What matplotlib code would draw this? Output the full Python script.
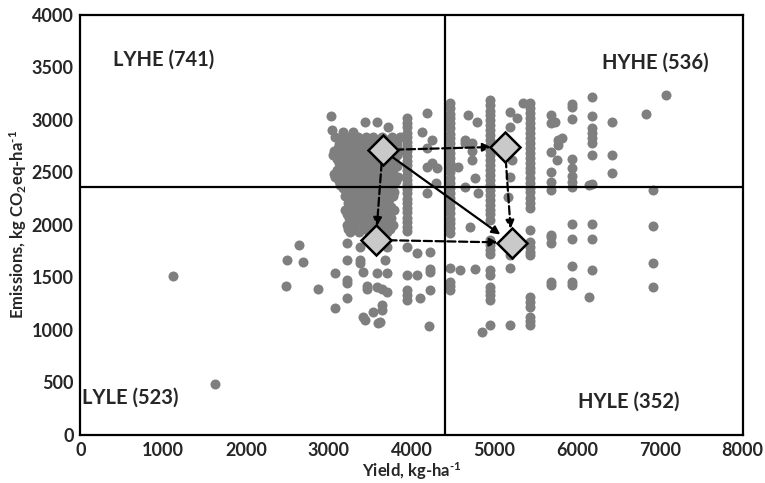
import matplotlib.pyplot as plt

plt.rcParams['font.family'] = ['Lato', 'DejaVu Sans']
plt.rcParams['mathtext.fontset'] = 'custom'
plt.rcParams['mathtext.rm'] = 'Lato:bold'
plt.rcParams['mathtext.it'] = 'Lato:bold'
plt.rcParams['mathtext.bf'] = 'Lato:bold'

# --- data ---
# loose points (yield, emissions)
loose_x = [1120, 1625, 2640, 2495, 2690, 2480, 2870, 3025, 3040, 3170, 3290, 3440, 3580, 3715, 3860,
           3220, 3375, 3700, 4065, 4220, 3220, 3375, 3380, 3680, 4220, 4225, 3075, 3220, 3225,
           3410, 3580, 3700, 4065, 3460, 3465, 3580, 3640, 4220, 3220, 3700, 4100, 3075, 3640,
           3645, 3530, 3410, 3620, 3440, 3595, 4210,
           4185, 4125, 4245, 4185, 4245, 4185, 4305, 4185, 4300,
           4680, 4790, 4645, 4650, 4730, 4730, 4730, 4560, 4765, 4645, 4800,
           4705, 4585, 4765, 4850,
           5190, 5270, 5190, 5210, 5345, 5190, 5160, 5190, 5190, 5190,
           5770, 5770, 5815, 5755, 5730,
           6140, 6140, 6830, 7070]
loose_y = [1515, 490, 1810, 1670, 1650, 1420, 1390, 3040, 2905, 2885, 2885, 2980, 2980, 2935, 2840,
           1830, 1790, 1790, 1735, 1745, 1665, 1665, 1640, 1665, 1580, 1555, 1545, 1475, 1450,
           1550, 1545, 1545, 1525, 1420, 1390, 1410, 1390, 1380, 1305, 1360, 1305, 1210, 1240,
           1190, 1170, 1125, 1075, 1095, 1065, 1040,
           3065, 2885, 2810, 2735, 2590, 2550, 2545, 2305, 2400,
           3050, 2980, 2810, 2780, 2780, 2700, 2620, 2550, 2450, 2360, 2305,
           1980, 1570, 1580, 980,
           3075, 3020, 2935, 2620, 3160, 2460, 2270, 1590, 1715, 1050,
           2810, 2760, 2830, 2620, 2980,
           1315, 2385, 3055, 3240]

# dense cluster, row by row
blob_y = [2840, 2805, 2770, 2735, 2700, 2665, 2630, 2595, 2560, 2525, 2490, 2455, 2420, 2385,
          2350, 2315, 2280, 2245, 2210, 2175, 2140, 2105, 2070, 2035, 2000, 1965, 1930]
blob_x = [[3080, 3180, 3260, 3350, 3450, 3530, 3640, 3760],
          [3130, 3230, 3300, 3400, 3500, 3590, 3700, 3800],
          [3120, 3220, 3310, 3400, 3490, 3580, 3700, 3820],
          [3110, 3200, 3290, 3390, 3490, 3600, 3710, 3810],
          [3060, 3160, 3250, 3340, 3440, 3540, 3760, 3850],
          [3050, 3150, 3240, 3330, 3430, 3520, 3630, 3730, 3830],
          [3100, 3200, 3290, 3380, 3480, 3570, 3680, 3790],
          [3120, 3210, 3300, 3400, 3500, 3600, 3690, 3800],
          [3150, 3240, 3330, 3420, 3520, 3620, 3720, 3830],
          [3100, 3190, 3280, 3370, 3470, 3570, 3680, 3780],
          [3060, 3190, 3280, 3370, 3460, 3560, 3660, 3760],
          [3080, 3160, 3250, 3350, 3440, 3540, 3630, 3740, 3840],
          [3120, 3230, 3320, 3410, 3500, 3600, 3700, 3810],
          [3130, 3200, 3290, 3380, 3470, 3560, 3670, 3770],
          [3170, 3260, 3350, 3440, 3540, 3640, 3740],
          [3210, 3300, 3400, 3500, 3600, 3700, 3790],
          [3200, 3290, 3380, 3470, 3570, 3680, 3780],
          [3230, 3330, 3430, 3520, 3620, 3730],
          [3230, 3320, 3410, 3500, 3610, 3720],
          [3250, 3340, 3440, 3540, 3640, 3750],
          [3200, 3290, 3380, 3480, 3580, 3700, 3790],
          [3220, 3310, 3400, 3500, 3600, 3720],
          [3240, 3330, 3430, 3540, 3650, 3750],
          [3270, 3370, 3480, 3580, 3710],
          [3220, 3310, 3420, 3530, 3680, 3770],
          [3230, 3320, 3440, 3600, 3740],
          [3260, 3360, 3480, 3700]]

# vertical stripes of points at common yield values
col_x = [3945, 4460, 4945, 5430, 5680, 5935, 6180, 6420, 6915]
col_y = [[3020, 2970, 2930, 2880, 2840, 2790, 2750, 2700, 2660, 2610, 2570, 2520, 2480, 2430,
          2390, 2340, 2300, 2250, 2210, 2160, 2120, 2070, 2030, 1980, 1940, 1790, 1525, 1380,
          1330, 1285],
         [3160, 3110, 3060, 3020, 2970, 2920, 2870, 2830, 2780, 2730, 2690, 2640, 2590, 2540,
          2500, 2450, 2400, 2350, 2300, 2260, 2210, 2160, 2110, 2060, 2020, 1970, 1925, 1590,
          1455, 1420, 1380],
         [3190, 3140, 3090, 3050, 3000, 2950, 2900, 2860, 2810, 2760, 2710, 2670, 2620, 2570,
          2520, 2480, 2430, 2380, 2330, 2290, 2240, 2190, 2140, 2100, 2050, 1855, 1810, 1760,
          1720, 1570, 1525, 1410, 1370, 1330, 1285, 1050],
         [3160, 3110, 3070, 3020, 2970, 2920, 2880, 2830, 2780, 2730, 2690, 2640, 2590, 2540,
          2500, 2450, 2400, 2350, 2310, 2260, 2210, 2160, 1950, 1840, 1790, 1740, 1715, 1315,
          1270, 1220, 1125, 1085, 1050],
         [3050, 2970, 2695, 2505, 2410, 2335, 1905, 1885, 1830, 1455, 1430],
         [3150, 3120, 3010, 2630, 2545, 2470, 2410, 2360, 2010, 1870, 1610, 1460, 1430],
         [3220, 3040, 2925, 2875, 2830, 2780, 2665, 2390, 2010, 1870, 1570],
         [2980, 2665, 2495],
         [2330, 1990, 1640, 1410]]

# quadrant means (diamonds): LYHE, HYHE, LYLE, HYLE
mean_x = [3650, 5127, 3569, 5208]
mean_y = [2714, 2746, 1857, 1832]
# arrows between means: (from, to, style)
arrows = [(0, 1, '--'), (0, 2, '--'), (2, 3, '--'), (1, 3, '--'), (0, 3, '-')]

x_split = 4400
y_split = 2365

quad_labels = ['LYHE (741)', 'HYHE (536)', 'LYLE (523)', 'HYLE (352)']
quad_x = [1000, 6950, 600, 6620]
quad_y = [3570, 3550, 360, 315]

# --- build point list ---
xs, ys = list(loose_x), list(loose_y)
for yv, row in zip(blob_y, blob_x):
    xs += row
    ys += [yv] * len(row)
for xv, col in zip(col_x, col_y):
    xs += [xv] * len(col)
    ys += col

fig = plt.figure(figsize=(7.65, 4.83), dpi=100)
ax = fig.add_axes([0.1052, 0.0994, 0.8656, 0.8696])

ax.scatter(xs, ys, s=52, color='#7f7f7f', linewidths=0, zorder=2)
ax.axvline(x_split, color='black', lw=1.6, zorder=3)
ax.axhline(y_split, color='black', lw=1.6, zorder=3)

for a, b, ls in arrows:
    ax.annotate('', xy=(mean_x[b], mean_y[b]), xytext=(mean_x[a], mean_y[a]),
                arrowprops=dict(arrowstyle='-|>', linestyle=ls, lw=1.6, color='black',
                                shrinkA=9, shrinkB=10, mutation_scale=12),
                zorder=4)

ax.plot(mean_x, mean_y, 'D', ms=15, mfc='#c9c9c9', mec='black', mew=1.8, ls='none', zorder=5)

for t, qx, qy in zip(quad_labels, quad_x, quad_y):
    ax.text(qx, qy, t, ha='center', va='center', fontsize=14.5, fontweight='bold', color='#262626')

ax.set_xlim(0, 8000)
ax.set_ylim(0, 4000)
ax.set_xticks(range(0, 8001, 1000))
ax.set_yticks(range(0, 4001, 500))
ax.tick_params(length=0, labelsize=13, pad=5, colors='#262626')
for lab in ax.get_xticklabels() + ax.get_yticklabels():
    lab.set_fontweight('bold')
for sp in ax.spines.values():
    sp.set_linewidth(1.6)

ax.set_xlabel(r'Yield, kg-ha$^{\text{-1}}$', fontsize=12, fontweight='bold', color='#262626', labelpad=1)
ax.set_ylabel(r'Emissions, kg CO$_2$eq-ha$^{\text{-1}}$', fontsize=12, fontweight='bold', color='#262626', labelpad=2)

fig.savefig('out.png', dpi=100)
